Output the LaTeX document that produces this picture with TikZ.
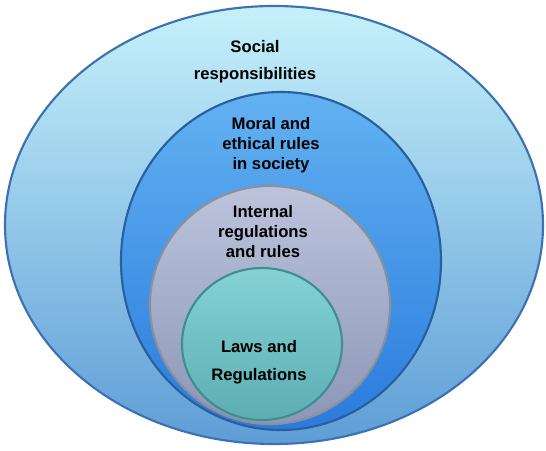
\documentclass[tikz,border=0pt]{standalone}
\usepackage{fontspec}
\setmainfont{Liberation Sans}
\usetikzlibrary{shapes.geometric}
\definecolor{outerTop}{HTML}{C6F1FB}
\definecolor{outerBot}{HTML}{5E9DD6}
\definecolor{outerLine}{HTML}{3C72B2}
\definecolor{moralTop}{HTML}{62B2F2}
\definecolor{moralBot}{HTML}{2A7BDD}
\definecolor{moralLine}{HTML}{2A5E9C}
\definecolor{ruleTop}{HTML}{BCC4DC}
\definecolor{ruleBot}{HTML}{8C96B6}
\definecolor{ruleLine}{HTML}{8A909C}
\definecolor{lawTop}{HTML}{84D2D4}
\definecolor{lawBot}{HTML}{5CAEB3}
\definecolor{lawLine}{HTML}{3F8F92}
\tikzset{
  ring/.style={ellipse, inner sep=0pt, line width=1.6pt, shading=axis},
  label/.style={align=center, font=\fontsize{12.5}{15}\selectfont\bfseries, text=black}
}
\begin{document}
\begin{tikzpicture}[x=0.75pt, y=-0.75pt]
    \useasboundingbox (0,0) rectangle (546,450);
    % Nodes
    \node[ring, draw=outerLine, top color=outerTop, bottom color=outerBot,
          minimum width=403.5pt, minimum height=328.5pt] (social) at (274,225) {};
    \node[ring, draw=moralLine, top color=moralTop, bottom color=moralBot,
          minimum width=240pt, minimum height=253.5pt] (moral) at (281,261) {};
    \node[ring, draw=ruleLine, top color=ruleTop, bottom color=ruleBot,
          minimum width=180pt, minimum height=178.5pt] (internal) at (270,305) {};
    \node[ring, draw=lawLine, top color=lawTop, bottom color=lawBot,
          minimum width=120pt, minimum height=114pt] (laws) at (262,344) {};
    % Labels
    \node[label, font=\fontsize{12.5}{20}\selectfont\bfseries] (socialtext) at (255,62) {Social\\responsibilities};
    \node[label] (moraltext) at (271,145) {Moral and\\ethical rules\\in society};
    \node[label] (internaltext) at (263,232) {Internal\\regulations\\and rules};
    \node[label, font=\fontsize{12.5}{21}\selectfont\bfseries] (lawstext) at (259,362) {Laws and\\Regulations};
\end{tikzpicture}
\end{document}
